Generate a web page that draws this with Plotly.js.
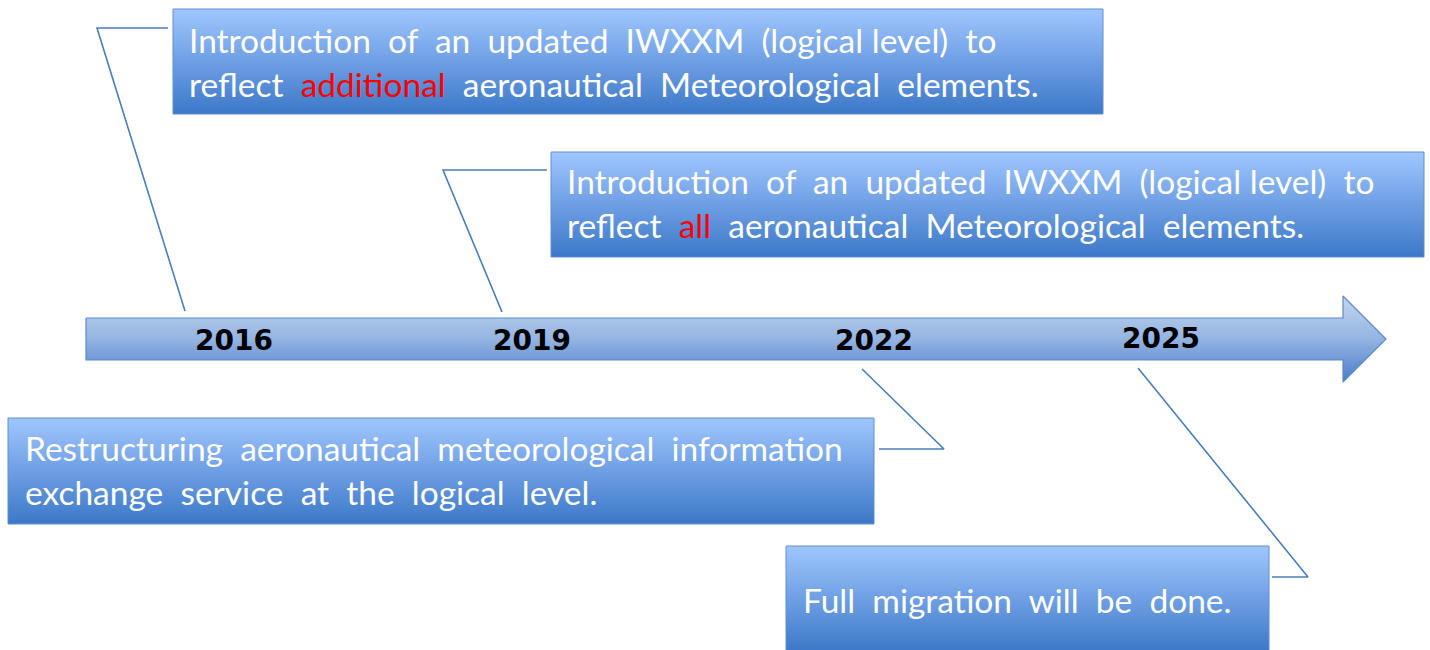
<!DOCTYPE html>
<html>
<head>
<meta charset="utf-8">
<script src="https://cdn.plot.ly/plotly-3.0.1.min.js"></script>
<style>html,body{margin:0;padding:0;background:#fff;}#chart{width:1430px;height:650px;}</style>
</head>
<body>
<div id="chart"></div>
<script>
// ---- data ----
const years = ['2016', '2019', '2022', '2025'];
const eventLine1 = [
  'Introduction  of  an  updated  IWXXM  (logical level)  to',
  'Introduction  of  an  updated  IWXXM  (logical level)  to',
  'Restructuring  aeronautical  meteorological  information',
  ''
];
const eventLine2 = [
  'reflect  {additional}  aeronautical  Meteorological  elements.',
  'reflect  {all}  aeronautical  Meteorological  elements.',
  'exchange  service  at  the  logical  level.',
  'Full  migration  will  be  done.'
];

// ---- layout (pixel positions) ----
const yearPos = [[234, 340], [532, 340], [874, 340], [1161, 338]];
const boxes = [[173, 9, 1103, 114], [551, 152, 1424, 257], [8, 418, 874, 524], [786, 546, 1269, 652]];
const textPos = [[187, 61.5], [565, 203], [23, 469.5], [801, 599.5]];
const gapWidth = [2, 2, 2, 2];
const connectors = [
  [[168, 28], [97, 28], [185, 311]],
  [[547, 170], [443, 170], [502, 312]],
  [[862, 369], [944, 449], [879, 449]],
  [[1138, 368], [1308, 577], [1272, 577]]
];
const arrowShape = {x0: 86, x1: 1343, yTop: 318, yBot: 360, headTop: 296, headBot: 382, tipX: 1386};

const lineColor = '#4a7ebb';
const traces = [];

// arrow
const a = arrowShape;
const mid = (a.headTop + a.headBot) / 2;
traces.push({
  x: [a.x0, a.x1, a.x1, a.tipX, a.x1, a.x1, a.x0, a.x0],
  y: [a.yTop, a.yTop, a.headTop, mid, a.headBot, a.yBot, a.yBot, a.yTop],
  mode: 'lines', fill: 'toself', line: {color: '#5b89cc', width: 1.2},
  fillgradient: {type: 'vertical', colorscale: [[0, '#c4d6f0'], [0.5, '#94b4e2'], [1, '#4a7cc8']], start: a.headTop, stop: a.headBot},
  hoverinfo: 'skip', showlegend: false
});

// boxes
boxes.forEach(b => {
  traces.push({
    x: [b[0], b[2], b[2], b[0], b[0]],
    y: [b[1], b[1], b[3], b[3], b[1]],
    mode: 'lines', fill: 'toself', line: {color: '#5f8fd2', width: 1},
    fillgradient: {type: 'vertical', colorscale: [[0, '#a0c6ff'], [1, '#3c78c8']], start: b[1], stop: b[3]},
    hoverinfo: 'skip', showlegend: false
  });
});

// connectors
connectors.forEach(c => {
  traces.push({
    x: c.map(p => p[0]), y: c.map(p => p[1]),
    mode: 'lines', line: {color: lineColor, width: 1.6},
    hoverinfo: 'skip', showlegend: false
  });
});

function fmt(s, gap) {
  const g = '\u00a0'.repeat(gap);
  return s.replace(/  /g, g).replace(/ /g, '\u00a0')
          .replace(/\{([^}]*)\}/g, '<span style="color:#ff0000">$1</span>');
}

const annotations = [];
years.forEach((y, i) => {
  annotations.push({
    x: yearPos[i][0], y: yearPos[i][1], xref: 'x', yref: 'y', text: '<b>' + y + '</b>',
    showarrow: false, xanchor: 'center', yanchor: 'middle',
    font: {family: 'DejaVu Sans', size: 28, color: '#000'}
  });
});
eventLine2.forEach((l2, i) => {
  const l1 = eventLine1[i];
  const txt = l1 ? fmt(l1, gapWidth[i]) + '<br>' + fmt(l2, gapWidth[i]) : fmt(l2, gapWidth[i]);
  annotations.push({
    x: textPos[i][0], y: textPos[i][1], xref: 'x', yref: 'y', text: txt,
    showarrow: false, xanchor: 'left', yanchor: 'middle', align: 'left',
    font: {family: 'Lato', size: 33.5, color: '#ffffff'}
  });
});

const layout = {
  width: 1430, height: 650,
  margin: {l: 0, r: 0, t: 0, b: 0},
  paper_bgcolor: '#fff', plot_bgcolor: '#fff',
  xaxis: {range: [0, 1430], visible: false, fixedrange: true},
  yaxis: {range: [650, 0], visible: false, fixedrange: true},
  annotations: annotations,
  showlegend: false
};

Plotly.newPlot('chart', traces, layout, {displayModeBar: false, staticPlot: true});
</script>
</body>
</html>
